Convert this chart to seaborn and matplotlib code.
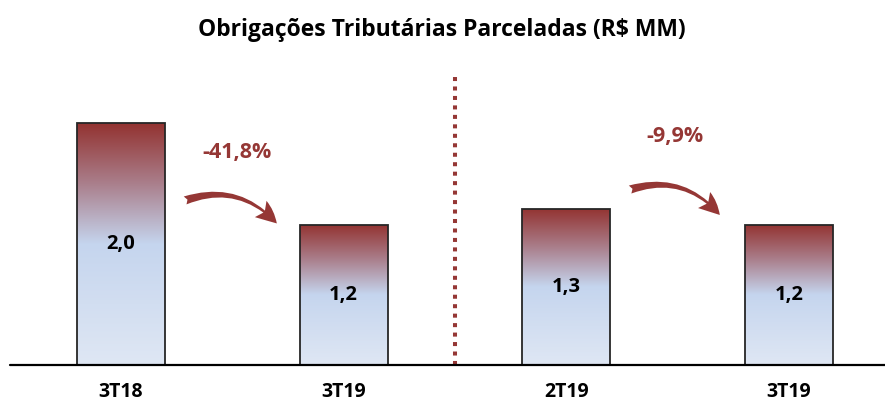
import numpy as np
import pandas as pd
import matplotlib
matplotlib.use("Agg")
import matplotlib.pyplot as plt
import seaborn as sns
from matplotlib.colors import LinearSegmentedColormap

categories = ["3T18", "3T19", "2T19", "3T19 "]
tick_labels = ["3T18", "3T19", "2T19", "3T19"]
values = [2.0, 1.16, 1.29, 1.16]
value_labels = ["2,0", "1,2", "1,3", "1,2"]
pct_labels = ["-41,8%", "-9,9%"]
title = "Obrigações Tributárias Parceladas (R$ MM)"

RED = "#953735"

sns.set_theme(style="white")
plt.rcParams['font.family'] = ['Open Sans', 'DejaVu Sans']

fig = plt.figure(figsize=(8.85, 4.05), dpi=100)
ax = fig.add_axes([10/885, 1-365/405, 1-10/885, 305/405])

df = pd.DataFrame({"cat": categories, "val": values})
sns.barplot(data=df, x="cat", y="val", ax=ax, width=0.395,
            color="white", edgecolor="#262626", linewidth=1.3, zorder=3)

cmap = LinearSegmentedColormap.from_list(
    "grad", [(0.0, "#dfe7f4"), (0.5, "#c5d5ee"), (0.75, "#aa7f8c"), (1.0, "#933331")])
grad = np.linspace(0, 1, 256).reshape(-1, 1)
for p in ax.patches:
    x0, y0 = p.get_x(), p.get_y()
    w, h = p.get_width(), p.get_height()
    im = ax.imshow(grad, cmap=cmap, aspect="auto", origin="lower",
                   extent=(x0, x0 + w, y0, y0 + h), zorder=2)
    im.set_clip_path(p)
    p.set_facecolor("none")

ax.set_xlim(-0.4987, 3.432)
ax.set_ylim(0, 305/121)

for i, (v, lab) in enumerate(zip(values, value_labels)):
    ax.text(i, v/2, lab, ha="center", va="center", fontsize=14.5,
            fontweight="bold", color="black", zorder=5)

# baseline
ax.axhline(0, color="black", lw=1.6, zorder=4, clip_on=False)

# dotted separator
ax.plot([1.5, 1.5], [0, 2.41], color=RED, lw=2.9,
        linestyle=(0, (1, 1.35)), dash_capstyle="butt", zorder=1)

# change labels and arrows
ax.text(0.52, 1.76, pct_labels[0], ha="center", va="center", fontsize=15.5,
        fontweight="bold", color=RED)
ax.text(2.49, 1.89, pct_labels[1], ha="center", va="center", fontsize=15.5,
        fontweight="bold", color=RED)

arrow_kw = dict(arrowstyle="fancy,head_length=1.3,head_width=1.2,tail_width=0.5",
                connectionstyle="arc3,rad=-0.33", color=RED, lw=0,
                shrinkA=0, shrinkB=0)
ax.annotate("", xy=(0.70, 1.17), xytext=(0.288, 1.36), arrowprops=arrow_kw)
ax.annotate("", xy=(2.69, 1.24), xytext=(2.287, 1.45), arrowprops=arrow_kw)

ax.set_xticks(range(len(categories)))
ax.set_xticklabels(tick_labels, fontsize=14, fontweight="bold", color="black")
ax.tick_params(axis="x", length=0, pad=12)
ax.set_yticks([])
ax.set_xlabel("")
ax.set_ylabel("")
for s in ax.spines.values():
    s.set_visible(False)

fig.text(442/885, 1-30/405, title, ha="center", va="center",
         fontsize=16.5, fontweight="bold", color="black")

fig.savefig("out.png", dpi=100, facecolor="white")
